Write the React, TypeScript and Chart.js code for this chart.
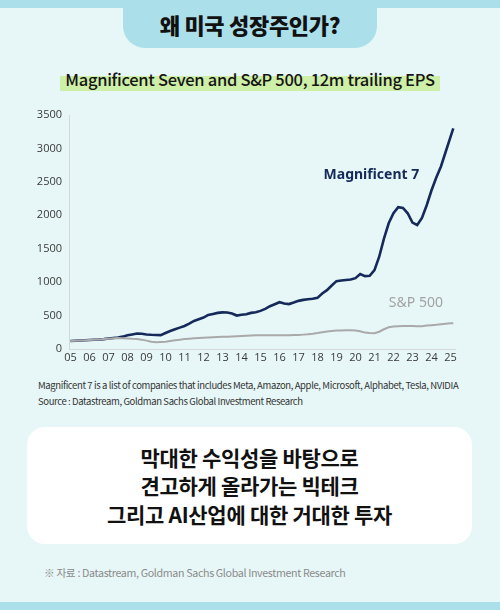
import React, { useEffect, useRef } from "react";
import { Chart, registerables } from "chart.js";

Chart.register(...registerables);

// ---- data ----
const quarterDates = [
  2005.0, 2005.25, 2005.5, 2005.75,
  2006.0, 2006.25, 2006.5, 2006.75,
  2007.0, 2007.25, 2007.5, 2007.75,
  2008.0, 2008.25, 2008.5, 2008.75,
  2009.0, 2009.25, 2009.5, 2009.75,
  2010.0, 2010.25, 2010.5, 2010.75,
  2011.0, 2011.25, 2011.5, 2011.75,
  2012.0, 2012.25, 2012.5, 2012.75,
  2013.0, 2013.25, 2013.5, 2013.75,
  2014.0, 2014.25, 2014.5, 2014.75,
  2015.0, 2015.25, 2015.5, 2015.75,
  2016.0, 2016.25, 2016.5, 2016.75,
  2017.0, 2017.25, 2017.5, 2017.75,
  2018.0, 2018.25, 2018.5, 2018.75,
  2019.0, 2019.25, 2019.5, 2019.75,
  2020.0, 2020.25, 2020.5, 2020.75,
  2021.0, 2021.25, 2021.5, 2021.75,
  2022.0, 2022.25, 2022.5, 2022.75,
  2023.0, 2023.25, 2023.5, 2023.75,
  2024.0, 2024.25, 2024.5, 2024.75,
  2025.0, 2025.15,
];

const mag7Eps = [
  120, 123, 127, 130,
  135, 138, 142, 148,
  158, 165, 172, 185,
  205, 218, 232, 228,
  218, 212, 210, 208,
  240, 270, 295, 320,
  345, 380, 420, 445,
  470, 510, 525, 540,
  548, 545, 530, 500,
  512, 520, 540, 550,
  570, 600, 640, 670,
  700, 680, 672, 695,
  720, 735, 745, 752,
  765, 830, 880, 950,
  1015, 1025, 1032, 1040,
  1060, 1120, 1090, 1095,
  1180, 1380, 1650, 1880,
  2030, 2120, 2110, 2030,
  1890, 1855, 1960, 2150,
  2370, 2560, 2730, 2950,
  3170, 3300,
];

const sp500Eps = [
  120, 123, 127, 130,
  135, 138, 142, 148,
  155, 160, 163, 162,
  158, 152, 148, 140,
  125, 108, 100, 105,
  110, 120, 130, 140,
  148, 155, 160, 165,
  170, 172, 175, 178,
  182, 185, 188, 192,
  196, 200, 203, 205,
  207, 206, 205, 205,
  205, 205, 206, 208,
  210, 215, 220, 228,
  238, 252, 262, 270,
  275, 278, 280, 279,
  276, 265, 245, 238,
  236, 258, 295, 325,
  335, 342, 344, 344,
  343, 340, 342, 350,
  356, 362, 370, 378,
  384, 385,
];

const xTickYears = [
  2005, 2006, 2007, 2008, 2009, 2010, 2011, 2012, 2013, 2014,
  2015, 2016, 2017, 2018, 2019, 2020, 2021, 2022, 2023, 2024, 2025,
];
const xTickLabels = [
  "05", "06", "07", "08", "09", "10", "11", "12", "13", "14",
  "15", "16", "17", "18", "19", "20", "21", "22", "23", "24", "25",
];
const yTickValues = [0, 500, 1000, 1500, 2000, 2500, 3000, 3500];
const yTickLabels = ["0", "500", "1000", "1500", "2000", "2500", "3000", "3500"];

const seriesNames = ["Magnificent 7", "S&P 500"];
const labelYears = [2020.84, 2023.18];
const labelValues = [2602, 683];

// ---- styles ----
const NAVY = "#15295a";
const GREY = "#a9a9a9";
const labelFonts = ["bold 14px 'Noto Sans'", "14px 'Noto Sans'"];
const labelColors = [NAVY, "#a3a3a3"];

const seriesLabelPlugin = {
  id: "seriesLabels",
  afterDatasetsDraw(chart: any) {
    const { ctx, scales } = chart;
    seriesNames.forEach((name, i) => {
      ctx.save();
      ctx.font = labelFonts[i];
      ctx.fillStyle = labelColors[i];
      ctx.textAlign = "center";
      ctx.textBaseline = "middle";
      ctx.fillText(
        name,
        scales.x.getPixelForValue(labelYears[i]),
        scales.y.getPixelForValue(labelValues[i])
      );
      ctx.restore();
    });
  },
};

function EpsChart() {
  const ref = useRef<HTMLCanvasElement | null>(null);
  useEffect(() => {
    if (!ref.current) return;
    const chart = new Chart(ref.current, {
      type: "line",
      data: {
        datasets: [
          {
            label: seriesNames[1],
            data: quarterDates.map((d, i) => ({ x: d, y: sp500Eps[i] })),
            borderColor: GREY,
            borderWidth: 2,
            pointRadius: 0,
            tension: 0,
          },
          {
            label: seriesNames[0],
            data: quarterDates.map((d, i) => ({ x: d, y: mag7Eps[i] })),
            borderColor: NAVY,
            borderWidth: 2.6,
            pointRadius: 0,
            tension: 0,
          },
        ],
      },
      options: {
        animation: false,
        responsive: false,
        layout: { padding: { top: 15, left: 0, right: 15, bottom: 0 } },
        plugins: {
          legend: { display: false },
          tooltip: { enabled: false },
          title: { display: false },
        },
        scales: {
          x: {
            type: "linear",
            min: 2004.92,
            max: 2025.24,
            afterBuildTicks: (s: any) => {
              s.ticks = xTickYears.map((v) => ({ value: v }));
            },
            afterFit: (s: any) => {
              s.height = 21;
            },
            grid: { display: false, drawTicks: false },
            border: { display: true, color: "#d4d8d8", width: 1 },
            ticks: {
              autoSkip: false,
              maxRotation: 0,
              padding: 2,
              color: "#3a3a3a",
              font: { family: "'Open Sans'", size: 11 },
              callback: (_v: any, i: number) => xTickLabels[i],
            },
          },
          y: {
            type: "linear",
            min: 0,
            max: 3500,
            afterBuildTicks: (s: any) => {
              s.ticks = yTickValues.map((v) => ({ value: v }));
            },
            afterFit: (s: any) => {
              s.width = 69;
            },
            grid: { display: false, drawTicks: false },
            border: { display: true, color: "#d4d8d8", width: 1 },
            ticks: {
              padding: 7,
              color: "#3a3a3a",
              font: { family: "'Open Sans'", size: 11 },
              callback: (_v: any, i: number) => yTickLabels[i],
            },
          },
        },
      },
      plugins: [seriesLabelPlugin],
    });
    return () => chart.destroy();
  }, []);
  return (
    <canvas
      ref={ref}
      width={470}
      height={270}
      style={{ position: "absolute", left: 0, top: 100, width: 470, height: 270 }}
    />
  );
}

export default function App() {
  const kr = "'Noto Sans CJK KR', 'Noto Sans', sans-serif";
  return (
    <div
      style={{
        position: "absolute",
        left: 0,
        top: 0,
        width: 500,
        height: 610,
        background: "#e7f7f7",
        overflow: "hidden",
        fontFamily: kr,
      }}
    >
      {/* top band */}
      <div style={{ position: "absolute", left: 0, top: 0, width: 500, height: 8, background: "#abdfea" }} />
      {/* title tab */}
      <div
        style={{
          position: "absolute",
          left: 123,
          top: 0,
          width: 254,
          height: 48,
          background: "#abdfea",
          borderBottomLeftRadius: 22,
          borderBottomRightRadius: 22,
          display: "flex",
          alignItems: "center",
          justifyContent: "center",
          fontSize: 22,
          fontWeight: 900,
          color: "#111",
          letterSpacing: -0.3,
        }}
      >
        왜 미국 성장주인가?
      </div>
      {/* subtitle */}
      <div
        style={{
          position: "absolute",
          left: 0,
          top: 66,
          width: 500,
          textAlign: "center",
        }}
      >
        <span
          style={{
            position: "relative",
            display: "inline-block",
            padding: "0 5px",
            fontSize: 16.5,
            fontWeight: 500,
            color: "#151515",
            lineHeight: "26px",
            letterSpacing: -0.3,
            background: "linear-gradient(to bottom, transparent 38%, #cdefa8 38%, #cdefa8 96%, transparent 96%)",
          }}
        >
          Magnificent Seven and S&amp;P 500, 12m trailing EPS
        </span>
      </div>

      <EpsChart />

      {/* footnotes */}
      <div
        style={{
          position: "absolute",
          left: 38,
          top: 377,
          fontSize: 9.5,
          lineHeight: "16px",
          color: "#333",
          letterSpacing: -0.38,
          whiteSpace: "nowrap",
        }}
      >
        <div>Magnificent 7 is a list of companies that includes Meta, Amazon, Apple, Microsoft, Alphabet, Tesla, NVIDIA</div>
        <div>Source : Datastream, Goldman Sachs Global Investment Research</div>
      </div>

      {/* message box */}
      <div
        style={{
          position: "absolute",
          left: 27,
          top: 427,
          width: 445,
          height: 117,
          background: "#ffffff",
          borderRadius: 18,
          display: "flex",
          flexDirection: "column",
          alignItems: "center",
          justifyContent: "center",
          fontSize: 21,
          fontWeight: 700,
          color: "#111",
          lineHeight: "28.5px",
          letterSpacing: -0.3,
        }}
      >
        <div>막대한 수익성을 바탕으로</div>
        <div>견고하게 올라가는 빅테크</div>
        <div>그리고 AI산업에 대한 거대한 투자</div>
      </div>

      {/* source */}
      <div
        style={{
          position: "absolute",
          left: 44,
          top: 565,
          fontSize: 10.7,
          lineHeight: "16px",
          color: "#8a8a8a",
          letterSpacing: -0.35,
          whiteSpace: "nowrap",
        }}
      >
        ※ 자료 : Datastream, Goldman Sachs Global Investment Research
      </div>

      {/* bottom band */}
      <div style={{ position: "absolute", left: 0, top: 602, width: 500, height: 8, background: "#abdfea" }} />
    </div>
  );
}
